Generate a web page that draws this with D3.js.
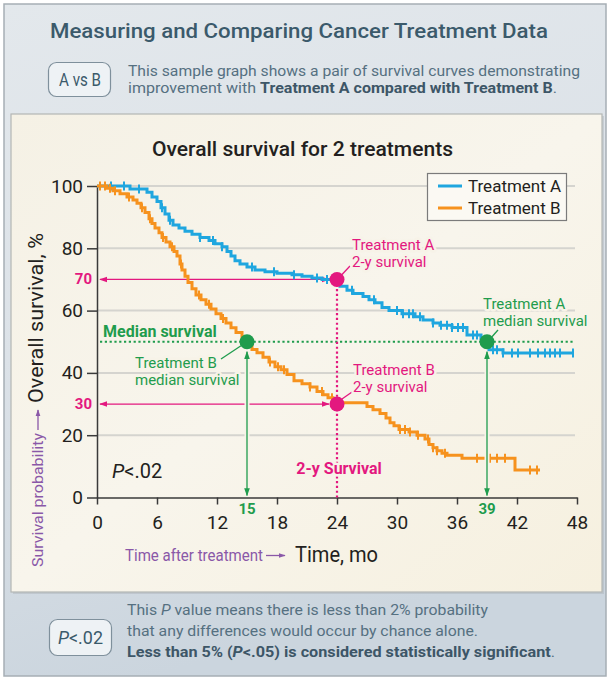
<!DOCTYPE html>
<html><head><meta charset="utf-8">
<script src="https://cdn.jsdelivr.net/npm/d3@7/dist/d3.min.js"></script>
<style>body{margin:0;background:#fff}svg{display:block}</style>
</head><body>
<svg id="c" width="612" height="680"></svg>
<script>
// ---------------- DATA ----------------
const xTickValues = [0, 6, 12, 18, 24, 30, 36, 42, 48];
const yTickValues = [0, 20, 40, 60, 80, 100];
const seriesNames = ["Treatment A", "Treatment B"];

const timeA = [0,3.3,5.0,5.5,6.0,6.4,6.8,7.2,7.6,8.2,8.8,9.5,10.3,11.2,11.8,12.5,13.0,13.4,13.8,14.3,15.0,15.8,16.8,18.0,19.5,20.5,21.5,22.5,24.3,25.0,25.6,26.6,27.2,27.8,28.5,29.2,30.5,31.8,32.6,33.6,34.3,35.5,37.0,38.4,39.2,40.6];
const survA = [100,99,98,96.5,95,93,91,89,87.5,86.5,85.5,84.5,83.5,82.5,81.5,80.5,79,77.5,76,75,74,73,72.5,72,71.5,71,70.5,70,67.8,66.5,65.5,64.5,63.5,62.5,61,60,59,58,57,56,55.3,54.6,52.2,51,47.4,46.4];
const endA = 47.6;
const censorA = [1.4,2.7,4.2,6.5,7.3,10.3,11.6,12.5,15.5,17.7,19.7,22.0,23.0,25.5,27.7,30.0,30.6,31.2,31.6,32.3,33.6,34.4,35.0,35.5,36.1,36.6,37.6,38.0,39.6,40.0,40.6,41.5,42.1,43.3,44.1,44.8,45.3,45.8,46.3,47.6];

const timeB = [0,1.0,1.6,2.3,3.0,3.6,4.0,4.4,4.8,5.2,5.5,5.8,6.2,6.5,6.9,7.3,7.7,8.0,8.3,8.5,8.8,9.1,9.5,9.9,10.4,10.9,11.4,11.9,12.4,12.9,13.4,13.9,14.5,15.1,15.5,16.0,16.6,17.2,17.8,18.4,19.0,19.7,20.5,21.3,22.0,22.6,23.1,23.6,24.2,27.0,27.6,28.3,28.9,29.3,29.7,30.2,31.2,32.0,32.8,33.2,33.6,34.0,34.5,35.0,36.5,41.8];
const survB = [100,99.3,98.5,97.5,96.5,95.5,94.5,93,91.5,89.5,88,86.5,85,83.5,82,80.5,79,77.5,75,73,71,69,67,65,63.5,62,60.5,59,57.5,56,54.5,53,51.5,49,47.5,46.5,45,43.5,42,41,39.5,37.5,36.5,35.5,34,33,32,31,30.4,29.2,28.2,27,25.5,24,23,21.8,21,20,18.8,17,16,15,14.2,13.6,12.6,8.8];
const endB = 44.3;
const censorB = [0.3,0.8,1.3,1.8,3.2,4.5,5.3,6.6,7.5,8.4,10.2,11.2,12.6,17.3,18.1,18.7,21.3,22.5,23.5,30.3,30.8,31.3,32.1,33.1,33.6,34.0,34.8,38.0,39.3,40.0,40.8,43.3,44.0];

const milestoneTime = 24;           // 2-year
const milestoneSurv = [70, 30];     // A, B
const medianLevel = 50;
const medianTimes = [39, 15];       // A, B

// ---------------- STYLE ----------------
const FONT = "Roboto, 'Open Sans', 'Noto Sans', sans-serif";
const colA = "#1fa6df", colB = "#f6921e";
const MAG = "#e3187f", GRN = "#1f9c4d", PUR = "#8a58a8";
const HEAD = "#3b5a6b", DESC = "#557081", DESCB = "#3d5667";
const PANEL = "#f7f3e8";

const svg = d3.select("#c");
const defs = svg.append("defs");

const gO = defs.append("linearGradient").attr("id","bgO").attr("x1",0).attr("y1",0).attr("x2",0.25).attr("y2",1);
gO.append("stop").attr("offset","0%").attr("stop-color","#e3e8ec");
gO.append("stop").attr("offset","50%").attr("stop-color","#dce2e8");
gO.append("stop").attr("offset","100%").attr("stop-color","#cbd5de");
const gI = defs.append("linearGradient").attr("id","bgI").attr("x1",0).attr("y1",0).attr("x2",1).attr("y2",1);
gI.append("stop").attr("offset","0%").attr("stop-color","#f5f1e5");
gI.append("stop").attr("offset","50%").attr("stop-color","#f8f5ec");
gI.append("stop").attr("offset","100%").attr("stop-color","#f6f0df");

function marker(id, color, size){
  defs.append("marker").attr("id",id).attr("viewBox","0 0 10 10")
    .attr("refX",9).attr("refY",5).attr("markerWidth",size).attr("markerHeight",size)
    .attr("markerUnits","userSpaceOnUse").attr("orient","auto-start-reverse")
    .append("path").attr("d","M0,1.5L10,5L0,8.5Z").attr("fill",color);
}
marker("mMag", MAG, 8); marker("mGrn", GRN, 8); marker("mPur", PUR, 7);

function fit(sel, w){ return sel.attr("textLength", w).attr("lengthAdjust","spacingAndGlyphs"); }
function halo(sel, w){ return sel.attr("stroke", PANEL).attr("stroke-width", w||5).attr("stroke-linejoin","round").attr("paint-order","stroke"); }

// ---------------- FRAMES ----------------
svg.append("rect").attr("width",612).attr("height",680).attr("fill","#fff");
svg.append("rect").attr("x",4).attr("y",4).attr("width",602).attr("height",672)
  .attr("fill","url(#bgO)").attr("stroke","#a6aeb5").attr("stroke-width",1.5);

// header
fit(svg.append("text").attr("x",50).attr("y",38).attr("font-family",FONT).attr("font-size",21).attr("font-weight",500)
  .attr("fill",HEAD).text("Measuring and Comparing Cancer Treatment Data"), 498);
svg.append("rect").attr("x",48.5).attr("y",62.5).attr("width",62).attr("height",34).attr("rx",8)
  .attr("fill","#eef2f5").attr("stroke","#7f909c").attr("stroke-width",1.2);
fit(svg.append("text").attr("x",80).attr("y",86).attr("text-anchor","middle").attr("font-family",FONT)
  .attr("font-size",18).attr("fill",HEAD).text("A vs B"), 42);
fit(svg.append("text").attr("x",128).attr("y",75.5).attr("font-family",FONT).attr("font-size",15)
  .attr("fill",DESC).text("This sample graph shows a pair of survival curves demonstrating"), 452);
{
  const t = svg.append("text").attr("x",128).attr("y",93).attr("font-family",FONT).attr("font-size",15).attr("fill",DESC);
  t.append("tspan").text("improvement with ");
  t.append("tspan").attr("font-weight","bold").attr("fill",DESCB).text("Treatment A compared with Treatment B");
  t.append("tspan").text(".");
  fit(t, 429);
}

// inner panel
svg.append("rect").attr("x",13).attr("y",116).attr("width",591).attr("height",478).attr("fill","#aab2b8").attr("opacity",0.45);
svg.append("rect").attr("x",11).attr("y",114).attr("width",591).attr("height",478)
  .attr("fill","url(#bgI)").attr("stroke","#b3b6b4").attr("stroke-width",1.2);

// footer
svg.append("rect").attr("x",49.5).attr("y",619.5).attr("width",62).attr("height",36).attr("rx",8)
  .attr("fill","#eef2f5").attr("stroke","#7f909c").attr("stroke-width",1.2);
{
  const t = svg.append("text").attr("x",80.5).attr("y",644).attr("text-anchor","middle").attr("font-family",FONT).attr("font-size",18).attr("fill",HEAD);
  t.append("tspan").attr("font-style","italic").text("P");
  t.append("tspan").text("<.02");
  fit(t, 45);
}
{
  const t1 = svg.append("text").attr("x",127).attr("y",615).attr("font-family",FONT).attr("font-size",15.5).attr("fill",DESC);
  t1.append("tspan").text("This ");
  t1.append("tspan").attr("font-style","italic").text("P");
  t1.append("tspan").text(" value means there is less than 2% probability");
  fit(t1, 361);
  fit(svg.append("text").attr("x",127).attr("y",636).attr("font-family",FONT).attr("font-size",15.5).attr("fill",DESC)
    .text("that any differences would occur by chance alone."), 351);
  const t3 = svg.append("text").attr("x",127).attr("y",657).attr("font-family",FONT).attr("font-size",15.5).attr("fill",DESCB).attr("font-weight","bold");
  t3.append("tspan").text("Less than 5% (");
  t3.append("tspan").attr("font-style","italic").text("P");
  t3.append("tspan").text("<.05) is considered statistically significant");
  t3.append("tspan").attr("font-weight","normal").attr("fill",DESC).text(".");
  fit(t3, 428);
}

// ---------------- CHART ----------------
const x = d3.scaleLinear().domain([0,48]).range([97,577]);
const y = d3.scaleLinear().domain([0,100]).range([497.5,186]);

fit(svg.append("text").attr("x",302.5).attr("y",156).attr("text-anchor","middle").attr("font-family",FONT)
  .attr("font-size",20).attr("font-weight",500).attr("fill","#231f20").text("Overall survival for 2 treatments"), 301);

// gridlines
svg.append("g").selectAll("line").data(yTickValues.filter(d=>d>0)).join("line")
  .attr("x1",x(0)).attr("x2",x(47.8)).attr("y1",d=>y(d)).attr("y2",d=>y(d))
  .attr("stroke","#d5d4cf").attr("stroke-width",2);

// axes
const yAxis = svg.append("g").attr("transform",`translate(${x(0)},0)`)
  .call(d3.axisLeft(y).tickValues(yTickValues).tickSize(10).tickSizeOuter(0).tickPadding(4));
const xAxis = svg.append("g").attr("transform",`translate(0,${y(0)})`)
  .call(d3.axisBottom(x).tickValues(xTickValues).tickSize(7).tickSizeOuter(0).tickPadding(11));
[yAxis, xAxis].forEach(a=>{
  a.select(".domain").attr("stroke","#3a3a3a").attr("stroke-width",1.5);
  a.selectAll(".tick line").attr("stroke","#3a3a3a").attr("stroke-width",1.5);
  a.selectAll(".tick text").attr("font-family",FONT).attr("font-size",19).attr("fill","#231f20");
});

// axis titles
{
  const g = svg.append("g").attr("transform","translate(43,567) rotate(-90)");
  fit(g.append("text").attr("x",0).attr("y",0).attr("font-family",FONT).attr("font-size",15).attr("fill",PUR)
    .text("Survival probability"), 134);
  g.append("line").attr("x1",137).attr("x2",157).attr("y1",-5).attr("y2",-5)
    .attr("stroke",PUR).attr("stroke-width",1.3).attr("marker-end","url(#mPur)");
  fit(g.append("text").attr("x",164).attr("y",0).attr("font-family",FONT).attr("font-size",21).attr("fill","#231f20")
    .text("Overall survival, %"), 170);
}
fit(svg.append("text").attr("x",125).attr("y",561).attr("font-family",FONT).attr("font-size",16).attr("fill",PUR)
  .text("Time after treatment"), 138);
svg.append("line").attr("x1",266).attr("x2",285).attr("y1",555.5).attr("y2",555.5)
  .attr("stroke",PUR).attr("stroke-width",1.3).attr("marker-end","url(#mPur)");
fit(svg.append("text").attr("x",295).attr("y",562).attr("font-family",FONT).attr("font-size",22).attr("fill","#231f20")
  .text("Time, mo"), 83);

// median dotted line
svg.append("line").attr("x1",x(0)+3).attr("x2",x(47.8)).attr("y1",y(medianLevel)).attr("y2",y(medianLevel))
  .attr("stroke",GRN).attr("stroke-width",2.2).attr("stroke-dasharray","2.2,2.6");
// 2-year dotted vertical
svg.append("line").attr("x1",x(milestoneTime)).attr("x2",x(milestoneTime)).attr("y1",y(milestoneSurv[0])).attr("y2",y(0))
  .attr("stroke",MAG).attr("stroke-width",2.2).attr("stroke-dasharray","2.2,2.6");
// horizontal magenta arrows
svg.append("g").selectAll("line").data(milestoneSurv).join("line")
  .attr("x1",x(0)+3).attr("x2",x(milestoneTime)-8).attr("y1",d=>y(d)).attr("y2",d=>y(d))
  .attr("stroke",MAG).attr("stroke-width",1.3).attr("marker-start","url(#mMag)").attr("marker-end","url(#mMag)");

// curves
function survAt(times, surv, t){ let v = surv[0]; for (let i=0;i<times.length;i++){ if (times[i] <= t) v = surv[i]; } return v; }
const line = d3.line().x(d=>x(d[0])).y(d=>y(d[1])).curve(d3.curveStepAfter);
const series = [
  {name: seriesNames[0], times: timeA, surv: survA, end: endA, censor: censorA, color: colA},
  {name: seriesNames[1], times: timeB, surv: survB, end: endB, censor: censorB, color: colB}
];
series.forEach(s=>{
  const pts = s.times.map((t,i)=>[t, s.surv[i]]).concat([[s.end, s.surv[s.surv.length-1]]]);
  svg.append("path").datum(pts).attr("d",line).attr("fill","none").attr("stroke",s.color).attr("stroke-width",3);
  svg.append("g").selectAll("line").data(s.censor).join("line")
    .attr("x1",d=>x(d)).attr("x2",d=>x(d))
    .attr("y1",d=>y(survAt(s.times,s.surv,d))-4.5).attr("y2",d=>y(survAt(s.times,s.surv,d))+4.5)
    .attr("stroke",s.color).attr("stroke-width",2);
});

// green vertical arrows (with halo)
svg.append("g").selectAll("line").data(medianTimes).join("line")
  .attr("x1",d=>x(d)).attr("x2",d=>x(d)).attr("y1",y(medianLevel)+10).attr("y2",y(0)-2)
  .attr("stroke",PANEL).attr("stroke-width",5);
svg.append("g").selectAll("line").data(medianTimes).join("line")
  .attr("x1",d=>x(d)).attr("x2",d=>x(d)).attr("y1",y(medianLevel)+10).attr("y2",y(0)-2)
  .attr("stroke",GRN).attr("stroke-width",1.3).attr("marker-start","url(#mGrn)").attr("marker-end","url(#mGrn)");

// leader lines
const leaders = [
  [x(24)+5, y(70)-5, 350, 266, MAG],
  [x(24)+5, y(30)-5, 352, 392, MAG],
  [x(15)-6, y(50)+4, 221, 359, GRN],
  [x(39)+5, y(50)-5, 498, 330, GRN]
];
svg.append("g").selectAll("line").data(leaders).join("line")
  .attr("x1",d=>d[0]).attr("y1",d=>d[1]).attr("x2",d=>d[2]).attr("y2",d=>d[3])
  .attr("stroke",d=>d[4]).attr("stroke-width",1.3);

// dots
svg.append("g").selectAll("circle").data(milestoneSurv).join("circle")
  .attr("cx",x(milestoneTime)).attr("cy",d=>y(d)).attr("r",7.5).attr("fill",MAG);
svg.append("g").selectAll("circle").data(medianTimes).join("circle")
  .attr("cx",d=>x(d)).attr("cy",y(medianLevel)).attr("r",7.5).attr("fill",GRN);

// labels (one text element per line)
function label(xp, yp, lines, color, opts){
  opts = opts || {};
  lines.forEach((l,i)=>{
    const t = svg.append("text").attr("x",xp).attr("y",yp + i*(opts.lh||17)).attr("font-family",FONT)
      .attr("font-size",opts.size||15).attr("fill",color).attr("font-weight",opts.weight||"normal")
      .attr("text-anchor",opts.anchor||"start").text(l);
    halo(t, opts.halo||5);
  });
}
label(352, 250, ["Treatment A","2-y survival"], MAG);
label(353, 375, ["Treatment B","2-y survival"], MAG);
label(483, 309, ["Treatment A","median survival"], GRN);
label(135, 368, ["Treatment B","median survival"], GRN);
label(103, 337, ["Median survival"], GRN, {weight:"bold", size:16});
label(339, 474, ["2-y Survival"], MAG, {weight:"bold", size:16, anchor:"middle"});
label(92, 284, [String(milestoneSurv[0])], MAG, {weight:"bold", size:15, anchor:"end", halo:3});
label(92, 409, [String(milestoneSurv[1])], MAG, {weight:"bold", size:15, anchor:"end", halo:3});
medianTimes.forEach(m => label(x(m), 514, [String(m)], GRN, {weight:"bold", size:15, anchor:"middle", halo:2}));
{
  const t = svg.append("text").attr("x",112).attr("y",478).attr("font-family",FONT).attr("font-size",20).attr("fill","#231f20");
  t.append("tspan").attr("font-style","italic").text("P");
  t.append("tspan").text("<.02");
}

// legend
svg.append("rect").attr("x",427.5).attr("y",173.5).attr("width",139).attr("height",47)
  .attr("fill","#fbf9f3").attr("stroke","#7b7b7b").attr("stroke-width",1.2);
const leg = svg.append("g").selectAll("g").data(series).join("g")
  .attr("transform",(d,i)=>`translate(438,${186 + i*22})`);
leg.append("line").attr("x1",0).attr("x2",24).attr("stroke",d=>d.color).attr("stroke-width",3);
leg.append("text").attr("x",30).attr("y",6).attr("font-family",FONT).attr("font-size",17).attr("fill","#231f20").text(d=>d.name);
</script>
</body></html>
